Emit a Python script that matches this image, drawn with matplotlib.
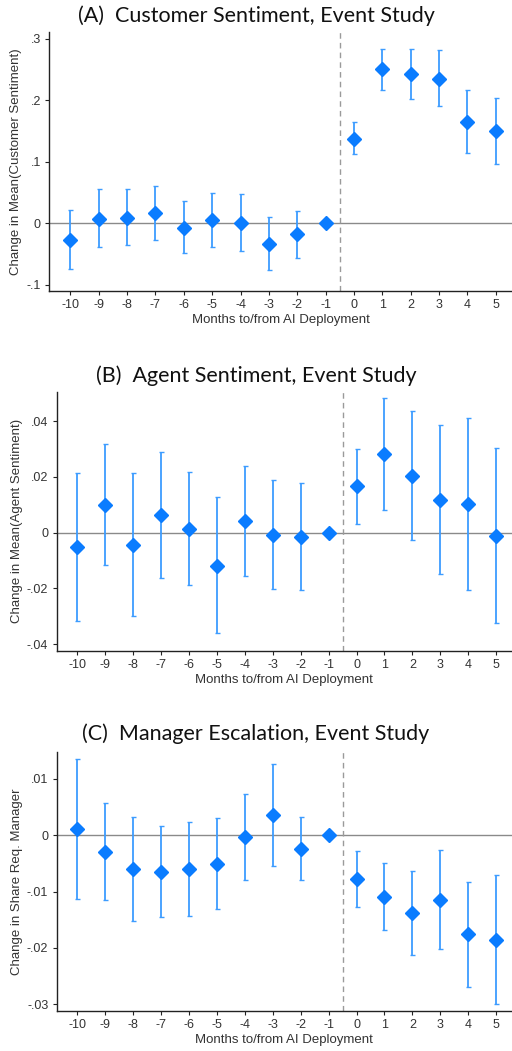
import numpy as np
import matplotlib.pyplot as plt

months = [-10, -9, -8, -7, -6, -5, -4, -3, -2, -1, 0, 1, 2, 3, 4, 5]

# (A) customer sentiment
cust_est = [-0.0266, 0.0076, 0.0087, 0.0168, -0.007, 0.005, 0.0005, -0.033,
            -0.018, 0.0, 0.1377, 0.250, 0.242, 0.235, 0.165, 0.1496]
cust_hi = [0.021, 0.055, 0.055, 0.061, 0.036, 0.049, 0.047, 0.011,
           0.0206, 0.0, 0.164, 0.284, 0.283, 0.281, 0.217, 0.204]
cust_lo = [-0.074, -0.038, -0.036, -0.027, -0.049, -0.039, -0.0455, -0.076,
           -0.056, 0.0, 0.112, 0.217, 0.2016, 0.191, 0.114, 0.096]

# (B) agent sentiment
agent_est = [-0.00525, 0.0100, -0.0044, 0.0062, 0.0014, -0.0118, 0.0042, -0.0007,
             -0.0014, 0.0, 0.0166, 0.0282, 0.0204, 0.0118, 0.0101, -0.0011]
agent_hi = [0.02125, 0.0316, 0.02125, 0.0289, 0.0216, 0.0127, 0.0239, 0.0189,
            0.0179, 0.0, 0.0301, 0.0481, 0.0437, 0.0384, 0.0411, 0.0302]
agent_lo = [-0.0316, -0.0117, -0.0299, -0.0164, -0.0186, -0.0361, -0.0154, -0.0201,
            -0.0204, 0.0, 0.0032, 0.0082, -0.0027, -0.0148, -0.0207, -0.0322]

# (C) manager escalation
mgr_est = [0.00112, -0.00296, -0.00598, -0.00645, -0.00604, -0.00503, -0.00024, 0.00361,
           -0.00237, 0.0, -0.00775, -0.01095, -0.01385, -0.01142, -0.01757, -0.01858]
mgr_hi = [0.0136, 0.00568, 0.0033, 0.0016, 0.0024, 0.0031, 0.0074, 0.0127,
          0.00325, 0.0, -0.00284, -0.00497, -0.00633, -0.0026, -0.00834, -0.0071]
mgr_lo = [-0.0113, -0.01154, -0.01515, -0.0145, -0.01432, -0.01314, -0.00799, -0.00538,
          -0.00799, 0.0, -0.01266, -0.01686, -0.0213, -0.0202, -0.02686, -0.02994]

ticks_a = [-0.1, 0, 0.1, 0.2, 0.3]
tlab_a = ['-.1', '0', '.1', '.2', '.3']
ticks_b = [-0.04, -0.02, 0, 0.02, 0.04]
tlab_b = ['-.04', '-.02', '0', '.02', '.04']
ticks_c = [-0.03, -0.02, -0.01, 0, 0.01]
tlab_c = ['-.03', '-.02', '-.01', '0', '.01']

panels = [
    ('(A)  Customer Sentiment, Event Study', 'Change in Mean(Customer Sentiment)',
     cust_est, cust_lo, cust_hi, ticks_a, tlab_a, (-0.110, 0.311),
     [0.0963, 0.7231, 0.9037, 0.2465], 0.985),
    ('(B)  Agent Sentiment, Event Study', 'Change in Mean(Agent Sentiment)',
     agent_est, agent_lo, agent_hi, ticks_b, tlab_b, (-0.0424, 0.0505),
     [0.1107, 0.3806, 0.8893, 0.2467], 0.643),
    ('(C)  Manager Escalation, Event Study', 'Change in Share Req. Manager',
     mgr_est, mgr_lo, mgr_hi, ticks_c, tlab_c, (-0.0312, 0.01485),
     [0.1107, 0.0381, 0.8893, 0.2467], 0.302),
]

fig = plt.figure(figsize=(5.12, 10.51), dpi=100)
plt.rcParams['font.family'] = ['Liberation Sans', 'DejaVu Sans']

for title, ylab, est, lo, hi, yt, ytl, ylim, rect, ty in panels:
    ax = fig.add_axes(rect)
    est = np.array(est)
    err = [est - np.array(lo), np.array(hi) - est]
    ax.axhline(0, color='#8a8a8a', lw=1.0, zorder=1)
    ax.axvline(-0.5, color='#9a9a9a', lw=1.0, ls=(0, (4, 3)), zorder=1)
    ax.errorbar(months, est, yerr=err, fmt='none', ecolor='#3d9cff',
                elinewidth=1.3, capsize=1.8, capthick=1.0, zorder=2)
    ax.plot(months, est, 'D', color='#0a7cff', ms=6.8, mec='#0a7cff', zorder=3)
    ax.set_xlim(-10.74, 5.57)
    ax.set_ylim(*ylim)
    ax.set_xticks(months)
    ax.set_xticklabels([str(m) for m in months])
    ax.set_yticks(yt)
    ax.set_yticklabels(ytl)
    for s in ['top', 'right']:
        ax.spines[s].set_visible(False)
    for s in ['left', 'bottom']:
        ax.spines[s].set_color('#222222')
        ax.spines[s].set_linewidth(1.0)
    ax.tick_params(axis='both', labelsize=9, colors='#222222', length=3, width=0.8,
                   labelcolor='#333333', pad=3)
    ax.set_xlabel('Months to/from AI Deployment', fontsize=9.5, color='#333333', labelpad=2)
    ax.set_ylabel(ylab, fontsize=9.5, color='#333333', labelpad=3)
    fig.text(0.5, ty, title, ha='center', va='center', fontsize=15.5,
             family=['Lato', 'DejaVu Sans'], color='#111111')

fig.savefig('out.png', dpi=100)
